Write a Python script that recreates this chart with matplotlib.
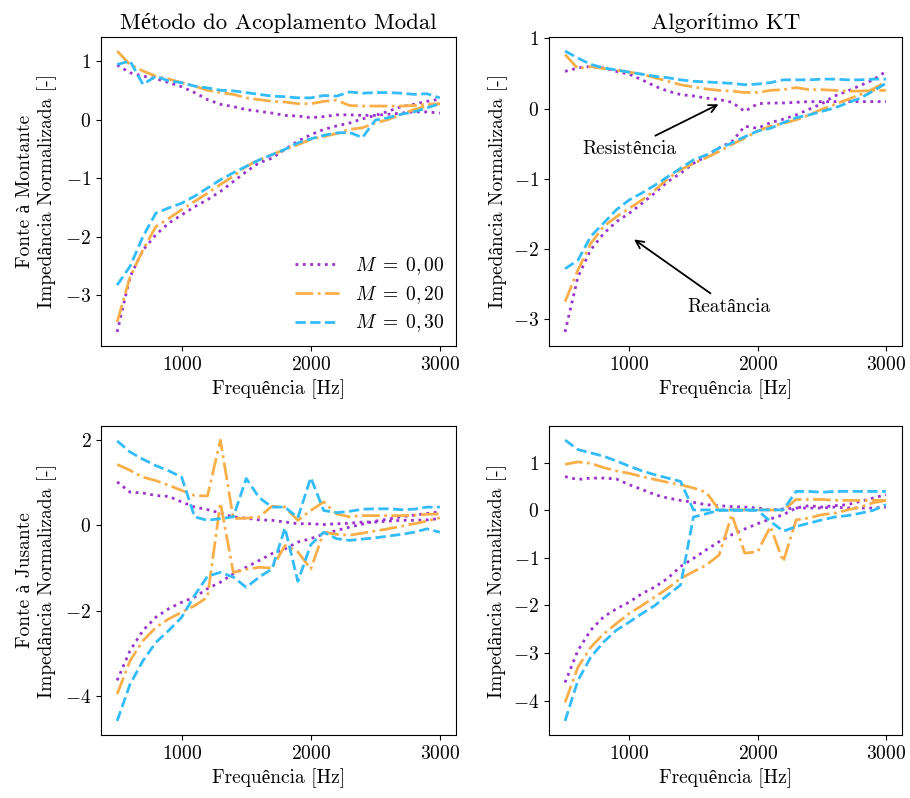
import numpy as np
import matplotlib
matplotlib.use("Agg")
import matplotlib.pyplot as plt

plt.rcParams['font.family'] = ['cmr10', 'Liberation Serif']
plt.rcParams['mathtext.fontset'] = 'cm'
plt.rcParams['axes.formatter.use_mathtext'] = True
plt.rcParams['axes.unicode_minus'] = True

freq = np.arange(500, 3001, 100)

# ---------- Método do Acoplamento Modal, Fonte à Montante ----------
tl_res_000 = [0.93, 0.80, 0.74, 0.70, 0.63, 0.56, 0.46, 0.34, 0.26, 0.22, 0.17, 0.14, 0.11,
              0.07, 0.06, 0.03, 0.05, 0.08, 0.08, 0.07, 0.07, 0.09, 0.11, 0.13, 0.13, 0.11]
tl_rea_000 = [-3.63, -2.69, -2.23, -1.97, -1.77, -1.63, -1.49, -1.37, -1.23, -1.06, -0.89, -0.74, -0.66,
              -0.51, -0.37, -0.26, -0.17, -0.11, -0.06, 0.01, 0.07, 0.14, 0.22, 0.26, 0.31, 0.35]
tl_res_020 = [1.17, 0.94, 0.83, 0.74, 0.69, 0.63, 0.57, 0.50, 0.46, 0.43, 0.37, 0.34, 0.31,
              0.30, 0.27, 0.27, 0.31, 0.33, 0.24, 0.23, 0.23, 0.23, 0.23, 0.24, 0.26, 0.27]
tl_rea_020 = [-3.46, -2.69, -2.23, -1.83, -1.69, -1.54, -1.40, -1.26, -1.11, -0.97, -0.80, -0.69, -0.60,
              -0.51, -0.43, -0.34, -0.29, -0.24, -0.17, -0.14, -0.06, 0.00, 0.09, 0.17, 0.23, 0.27]
tl_res_030 = [0.94, 1.00, 0.60, 0.74, 0.66, 0.63, 0.57, 0.54, 0.50, 0.49, 0.46, 0.43, 0.40,
              0.39, 0.37, 0.37, 0.41, 0.40, 0.47, 0.45, 0.46, 0.46, 0.45, 0.43, 0.44, 0.37]
tl_rea_030 = [-2.83, -2.51, -2.00, -1.60, -1.51, -1.43, -1.31, -1.17, -1.03, -0.91, -0.80, -0.69, -0.60,
              -0.51, -0.40, -0.33, -0.27, -0.23, -0.22, -0.31, -0.01, 0.03, 0.09, 0.13, 0.20, 0.27]

# ---------- Algorítimo KT, Fonte à Montante ----------
tr_res_000 = [0.53, 0.58, 0.60, 0.58, 0.53, 0.49, 0.41, 0.32, 0.25, 0.20, 0.18, 0.15, 0.13,
              0.09, -0.04, 0.07, 0.08, 0.08, 0.09, 0.10, 0.10, 0.10, 0.10, 0.10, 0.10, 0.10]
tr_rea_000 = [-3.18, -2.40, -2.01, -1.78, -1.61, -1.49, -1.35, -1.20, -1.04, -0.92, -0.78, -0.68, -0.56,
              -0.47, -0.25, -0.28, -0.20, -0.15, -0.09, -0.01, 0.07, 0.18, 0.25, 0.33, 0.41, 0.53]
tr_res_020 = [0.77, 0.57, 0.60, 0.57, 0.55, 0.52, 0.49, 0.44, 0.39, 0.34, 0.31, 0.28, 0.26,
              0.25, 0.23, 0.23, 0.26, 0.27, 0.30, 0.27, 0.27, 0.26, 0.25, 0.25, 0.26, 0.26]
tr_rea_020 = [-2.75, -2.30, -1.92, -1.68, -1.54, -1.42, -1.30, -1.16, -1.00, -0.87, -0.78, -0.70, -0.61,
              -0.51, -0.42, -0.32, -0.25, -0.21, -0.16, -0.09, -0.01, 0.06, 0.13, 0.20, 0.28, 0.38]
tr_res_030 = [0.82, 0.72, 0.63, 0.58, 0.55, 0.52, 0.49, 0.46, 0.44, 0.41, 0.39, 0.38, 0.37,
              0.36, 0.34, 0.35, 0.37, 0.41, 0.41, 0.41, 0.42, 0.42, 0.41, 0.41, 0.42, 0.42]
tr_rea_030 = [-2.28, -2.16, -1.82, -1.63, -1.44, -1.30, -1.20, -1.09, -0.97, -0.85, -0.73, -0.66, -0.56,
              -0.49, -0.40, -0.32, -0.28, -0.20, -0.13, -0.09, -0.04, 0.01, 0.08, 0.15, 0.25, 0.36]

# ---------- Método do Acoplamento Modal, Fonte à Jusante ----------
bl_res_000 = [1.02, 0.78, 0.76, 0.70, 0.68, 0.55, 0.43, 0.37, 0.29, 0.20, 0.17, 0.13, 0.12,
              0.08, 0.04, 0.04, 0.02, 0.04, 0.05, 0.08, 0.08, 0.10, 0.12, 0.12, 0.13, 0.16]
bl_rea_000 = [-3.63, -2.93, -2.46, -2.15, -1.95, -1.80, -1.68, -1.48, -1.33, -1.13, -0.98, -0.82, -0.66,
              -0.55, -0.39, -0.31, -0.20, -0.12, -0.04, 0.03, 0.10, 0.15, 0.20, 0.24, 0.28, 0.32]
bl_res_020 = [1.43, 1.29, 1.13, 1.05, 0.94, 0.82, 0.70, 0.69, 2.00, 0.16, 0.17, 0.20, 0.45,
              0.43, 0.12, 0.35, 0.55, 0.27, 0.20, 0.23, 0.23, 0.23, 0.23, 0.24, 0.26, 0.27]
bl_rea_020 = [-3.95, -3.17, -2.70, -2.39, -2.19, -2.03, -1.88, -1.68, 0.53, -1.10, -1.03, -0.98, -1.00,
              -0.47, -0.62, -1.02, -0.16, -0.21, -0.23, -0.18, -0.13, -0.08, -0.02, 0.04, 0.10, 0.18]
bl_res_030 = [1.98, 1.72, 1.55, 1.40, 1.28, 1.13, 0.20, 0.12, 0.16, 0.20, 1.10, 0.65, 0.43,
              0.43, 0.18, 1.12, 0.35, 0.30, 0.33, 0.38, 0.39, 0.39, 0.37, 0.38, 0.43, 0.43]
bl_rea_030 = [-4.58, -3.72, -3.17, -2.74, -2.46, -2.15, -1.64, -1.19, -1.10, -1.21, -1.45, -1.21, -1.02,
              -0.06, -1.31, -0.45, -0.16, -0.31, -0.35, -0.32, -0.29, -0.25, -0.21, -0.16, -0.08, -0.16]

# ---------- Algorítimo KT, Fonte à Jusante ----------
br_res_000 = [0.71, 0.65, 0.68, 0.68, 0.66, 0.54, 0.44, 0.33, 0.26, 0.21, 0.17, 0.12, 0.10,
              0.08, 0.07, 0.05, 0.01, 0.03, 0.05, 0.05, 0.05, 0.07, 0.05, 0.05, 0.05, 0.07]
br_rea_000 = [-3.62, -2.95, -2.52, -2.24, -2.07, -1.93, -1.75, -1.61, -1.43, -1.18, -1.01, -0.83, -0.66,
              -0.51, -0.39, -0.28, -0.18, -0.09, 0.05, 0.10, 0.07, 0.10, 0.12, 0.19, 0.26, 0.33]
br_res_020 = [0.97, 1.02, 0.99, 0.90, 0.83, 0.78, 0.71, 0.65, 0.59, 0.54, 0.47, 0.38, 0.01,
              0.01, 0.01, 0.01, 0.01, 0.00, 0.23, 0.23, 0.23, 0.21, 0.21, 0.21, 0.21, 0.21]
br_rea_020 = [-4.04, -3.30, -2.88, -2.60, -2.38, -2.17, -2.00, -1.82, -1.64, -1.43, -1.29, -1.15, -0.94,
              -0.09, -0.90, -0.87, -0.34, -1.08, -0.20, -0.16, -0.09, -0.06, 0.01, 0.07, 0.16, 0.21]
br_res_030 = [1.48, 1.28, 1.21, 1.14, 1.04, 0.93, 0.83, 0.75, 0.68, 0.61, 0.01, 0.01, 0.01,
              0.01, 0.01, 0.01, 0.01, 0.01, 0.40, 0.40, 0.38, 0.40, 0.40, 0.40, 0.40, 0.40]
br_rea_030 = [-4.43, -3.58, -3.09, -2.77, -2.52, -2.35, -2.17, -2.00, -1.78, -1.57, -0.14, -0.07, 0.00,
              0.00, 0.00, 0.00, -0.23, -0.44, -0.34, -0.27, -0.20, -0.14, -0.11, -0.06, 0.00, 0.12]

mach_labels = [r'$M\;=\;0,00$', r'$M\;=\;0,20$', r'$M\;=\;0,30$']
colors = ['#9933CC', '#F8AF4A', '#33BBFA']
styles = [':', '-.', '--']

panels = [
    [(tl_res_000, tl_rea_000), (tl_res_020, tl_rea_020), (tl_res_030, tl_rea_030)],
    [(tr_res_000, tr_rea_000), (tr_res_020, tr_rea_020), (tr_res_030, tr_rea_030)],
    [(bl_res_000, bl_rea_000), (bl_res_020, bl_rea_020), (bl_res_030, bl_rea_030)],
    [(br_res_000, br_rea_000), (br_res_020, br_rea_020), (br_res_030, br_rea_030)],
]

fig = plt.figure(figsize=(9.1, 7.98), dpi=100)
L1, R1 = 101 / 910, 456 / 910
L2, R2 = 549 / 910, 902 / 910
T1, B1 = 1 - 37 / 798, 1 - 346 / 798
T2, B2 = 1 - 426 / 798, 1 - 735 / 798
rects = [(L1, B1, R1 - L1, T1 - B1), (L2, B1, R2 - L2, T1 - B1),
         (L1, B2, R1 - L1, T2 - B2), (L2, B2, R2 - L2, T2 - B2)]
axes = [fig.add_axes(r) for r in rects]

fs = 14
for ax, pdata in zip(axes, panels):
    for (res, rea), lab, c, ls in zip(pdata, mach_labels, colors, styles):
        ax.plot(freq, res, color=c, ls=ls, lw=2, label=lab)
        ax.plot(freq, rea, color=c, ls=ls, lw=2)
    ax.set_xticks([1000, 2000, 3000])
    ax.tick_params(labelsize=fs)
    ax.set_xlabel('Frequência [Hz]', fontsize=fs)

axes[0].set_yticks([-3, -2, -1, 0, 1])
axes[1].set_yticks([-3, -2, -1, 0, 1])
axes[2].set_yticks([-4, -2, 0, 2])
axes[3].set_yticks([-4, -3, -2, -1, 0, 1])

axes[0].set_title('Método do Acoplamento Modal', fontsize=16.5)
axes[1].set_title('Algorítimo KT', fontsize=16.5)
axes[0].set_ylabel('Fonte à Montante\nImpedância Normalizada [-]', fontsize=fs, labelpad=6)
axes[2].set_ylabel('Fonte à Jusante\nImpedância Normalizada [-]', fontsize=fs, labelpad=6)
axes[1].set_ylabel('Impedância Normalizada [-]', fontsize=fs)
axes[3].set_ylabel('Impedância Normalizada [-]', fontsize=fs)

axes[0].legend(loc='lower right', frameon=False, fontsize=fs, handlelength=2.3,
               labelspacing=0.35, borderaxespad=0.2)

arrow = dict(arrowstyle='->', color='black', lw=1.3)
axes[1].annotate('Resistência', xy=(1715, 0.08), xytext=(1000, -0.57),
                 ha='center', va='center', fontsize=fs, arrowprops=arrow)
axes[1].annotate('Reatância', xy=(1020, -1.84), xytext=(1780, -2.82),
                 ha='center', va='center', fontsize=fs, arrowprops=arrow)

fig.savefig('out.png', dpi=100)
